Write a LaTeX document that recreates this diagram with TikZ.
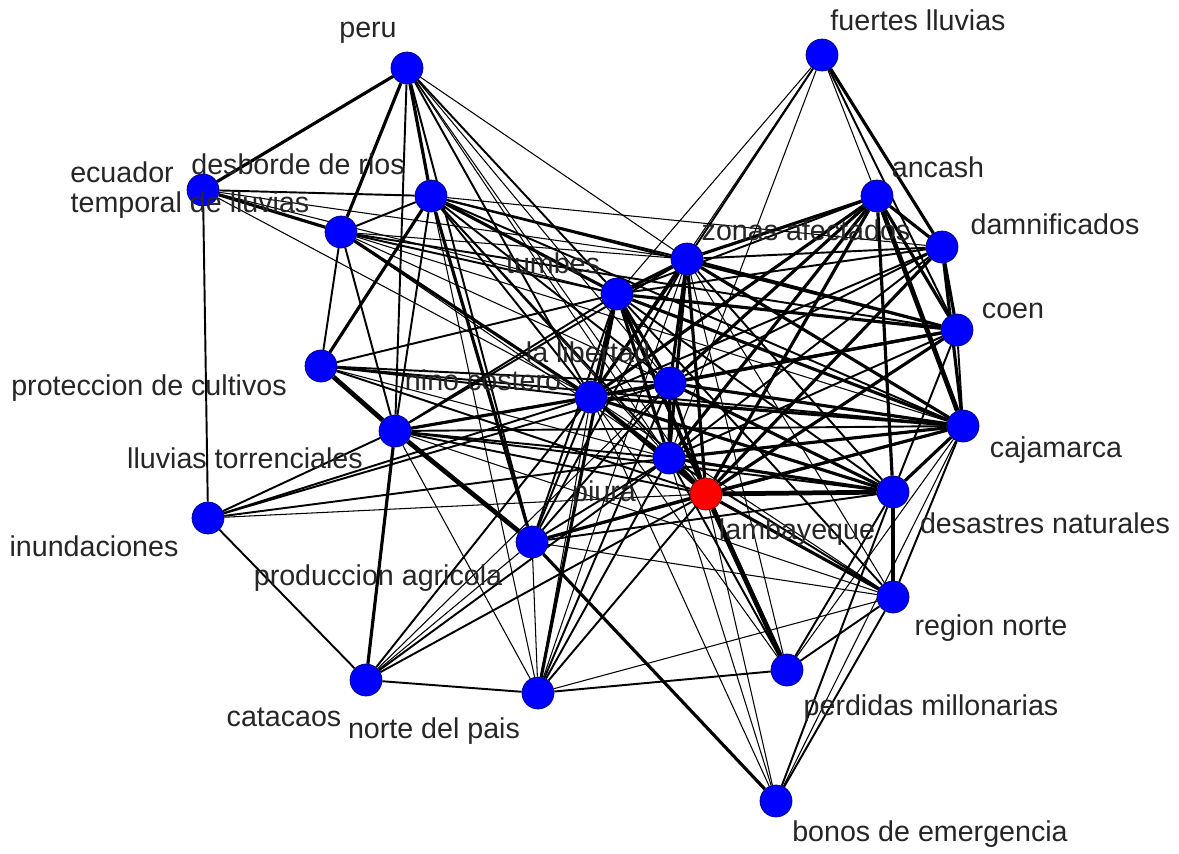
\documentclass[tikz,border=0pt]{standalone}
\usepackage{fontspec}
\setmainfont{Liberation Sans}
\usetikzlibrary{backgrounds}

\begin{document}
\begin{tikzpicture}[
    x=0.02cm, y=-0.02cm,
    every node/.style={font=\fontsize{16.3}{19}\selectfont},
    term/.style={circle, draw=blue!45!black, fill=blue, thin, minimum size=0.64cm, inner sep=0pt},
    focus/.style={term, draw=red!45!black, fill=red},
    lbl/.style={text=black!85, inner sep=0pt},
    w1/.style={draw=black, line width=0.6pt},
    w2/.style={draw=black, line width=1.1pt},
    w3/.style={draw=black, line width=1.8pt},
    w4/.style={draw=black, line width=2.7pt},
]
\useasboundingbox (0,0) rectangle (1179,853);

% terms
\node[term] (peru)  at (407,68)  {};
\node[term] (fuer)  at (822,55)  {};
\node[term] (ecua)  at (203,190) {};
\node[term] (desb)  at (431,196) {};
\node[term] (temp)  at (341,232) {};
\node[term] (anca)  at (877,196) {};
\node[term] (damn)  at (942,247) {};
\node[term] (zona)  at (687,259) {};
\node[term] (tumb)  at (617,294) {};
\node[term] (coen)  at (957,330) {};
\node[term] (prot)  at (321,366) {};
\node[term] (libe)  at (670,383) {};
\node[term] (nino)  at (591,397) {};
\node[term] (torr)  at (395,431) {};
\node[term] (caja)  at (963,426) {};
\node[term] (piur)  at (669,458) {};
\node[focus] (lamb) at (706,494) {};
\node[term] (desa)  at (893,492) {};
\node[term] (inun)  at (208,518) {};
\node[term] (prod)  at (532,542) {};
\node[term] (regi)  at (893,597) {};
\node[term] (perd)  at (787,670) {};
\node[term] (cata)  at (366,680) {};
\node[term] (nort)  at (538,693) {};
\node[term] (bono)  at (776,801) {};

% co-occurrence links
\begin{scope}[on background layer]
\fill[white] (0,0) rectangle (1179,853);
\foreach \a/\b in {peru/libe, peru/piur, peru/lamb, peru/zona, fuer/tumb, fuer/nino, fuer/piur,
    fuer/anca, ecua/tumb, ecua/nino, ecua/zona, desb/damn, desb/piur, temp/zona,
    temp/libe, temp/piur, temp/caja, prot/piur, torr/nort, inun/lamb, prod/cata, prod/regi,
    prod/nort, cata/libe, nort/zona, nort/nino, nort/regi, nort/desb, perd/caja, perd/nino,
    perd/zona, bono/lamb, bono/piur, bono/nino, bono/caja, regi/nino, regi/zona, regi/torr}
  \draw[w1] (\a) -- (\b);
\foreach \a/\b in {peru/torr, peru/prod, peru/nino, peru/tumb, fuer/zona, fuer/coen, ecua/desb,
    ecua/inun, desb/temp, desb/torr, desb/nino, desb/zona, desb/libe, desb/coen, desb/lamb,
    desb/caja, temp/prot, temp/torr, temp/tumb, temp/coen, prot/nino, prot/libe, prot/tumb,
    prot/lamb, prot/caja, torr/inun, torr/libe, torr/tumb, torr/lamb, torr/piur, torr/caja,
    torr/desa, torr/zona, inun/nino, inun/piur, inun/cata, inun/libe, prod/tumb, prod/nino,
    prod/libe, prod/piur, prod/zona, prod/desa, prod/caja, cata/nort, cata/nino, cata/piur,
    cata/lamb, nort/perd, nort/libe, nort/lamb, nort/piur, perd/piur, perd/regi, perd/desa,
    bono/regi, bono/desa, regi/piur, regi/caja, regi/tumb,
    tumb/anca, tumb/damn, tumb/desa, zona/damn,
    zona/desa, libe/damn, nino/piur, nino/damn,
    piur/damn, piur/coen, coen/caja, coen/desa}
  \draw[w2] (\a) -- (\b);
\foreach \a/\b in {peru/ecua, peru/temp, peru/desb, fuer/damn, ecua/temp, desb/prot, desb/prod,
    desb/tumb, temp/nino, torr/cata, torr/nino, prod/lamb, prod/bono, nort/tumb, perd/tumb,
    regi/lamb, regi/desa, tumb/zona, tumb/nino, tumb/piur, tumb/lamb, tumb/coen, zona/libe,
    zona/piur, zona/lamb, zona/anca, zona/coen, libe/nino, libe/piur, libe/lamb, libe/caja,
    libe/desa, nino/lamb, nino/coen, nino/caja, nino/desa, piur/desa, lamb/anca, lamb/coen,
    lamb/caja, anca/damn, anca/coen, anca/desa, damn/coen, damn/caja, caja/desa,
    tumb/libe, tumb/caja, zona/nino, zona/caja, libe/anca, libe/coen, nino/anca, piur/anca,
    piur/caja, lamb/damn}
  \draw[w3] (\a) -- (\b);
\foreach \a/\b in {prot/torr, torr/prod, perd/lamb, piur/lamb, lamb/desa, anca/caja}
  \draw[w4] (\a) -- (\b);
\end{scope}

% labels
\node[lbl] (peru-l) at (368,33)  {peru};
\node[lbl] (fuer-l) at (918,20)  {fuertes lluvias};
\node[lbl] (ecua-l) at (122,172) {ecuador};
\node[lbl] (desb-l) at (298,164) {desborde de rios};
\node[lbl] (temp-l) at (190,205) {temporal de lluvias};
\node[lbl] (anca-l) at (938,167) {ancash};
\node[lbl] (damn-l) at (1055,224) {damnificados};
\node[lbl] (zona-l) at (806,230) {zonas afectados};
\node[lbl] (tumb-l) at (553,263) {tumbes};
\node[lbl] (coen-l) at (1013,311) {coen};
\node[lbl] (prot-l) at (149,388) {proteccion de cultivos};
\node[lbl] (libe-l) at (588,352) {la libertad};
\node[lbl] (nino-l) at (483,380) {nino costero};
\node[lbl] (torr-l) at (245,458) {lluvias torrenciales};
\node[lbl] (caja-l) at (1056,450) {cajamarca};
\node[lbl] (piur-l) at (604,494) {piura};
\node[lbl] (lamb-l) at (797,532) {lambayeque};
\node[lbl] (desa-l) at (1045,523) {desastres naturales};
\node[lbl] (inun-l) at (94,546)  {inundaciones};
\node[lbl] (prod-l) at (378,578) {produccion agricola};
\node[lbl] (regi-l) at (991,628) {region norte};
\node[lbl] (perd-l) at (931,708) {perdidas millonarias};
\node[lbl] (cata-l) at (284,717) {catacaos};
\node[lbl] (nort-l) at (434,731) {norte del pais};
\node[lbl] (bono-l) at (930,834) {bonos de emergencia};
\end{tikzpicture}
\end{document}
